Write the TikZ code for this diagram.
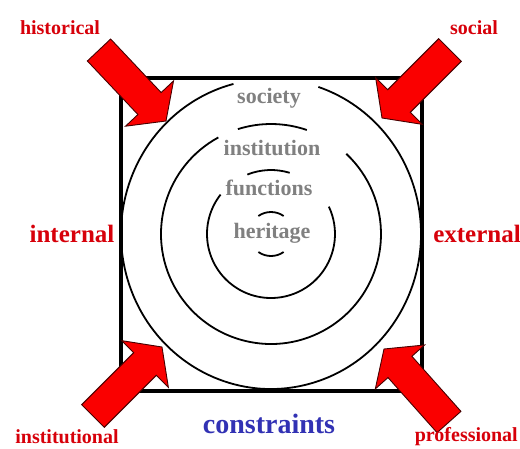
\documentclass[tikz,border=0pt]{standalone}
\usepackage{fontspec}
\setmainfont{Liberation Serif}
\usetikzlibrary{calc}
\definecolor{lblred}{RGB}{215,0,10}
\definecolor{lblblue}{RGB}{50,50,180}
\definecolor{txtgray}{RGB}{128,128,128}
\definecolor{arrred}{RGB}{250,0,0}
\definecolor{arredge}{RGB}{70,0,0}
\newcommand\blockarr[3]{%
  \coordinate (#1T) at #2;
  \coordinate (#1P) at #3;
  \coordinate (#1B) at ($(#1P)!24pt!(#1T)$);
  \draw[blockarrow] (#1P) -- ($(#1B)!33pt!90:(#1P)$) -- ($(#1B)!16pt!90:(#1P)$)
    -- ($(#1T)!16pt!90:(#1P)$) -- ($(#1T)!16pt!-90:(#1P)$)
    -- ($(#1B)!16pt!-90:(#1P)$) -- ($(#1B)!33pt!-90:(#1P)$) -- cycle;}
\begin{document}
\begin{tikzpicture}[x=1pt,y=-1pt,
  ring/.style={line width=1.8pt},
  frame/.style={draw, line width=3.5pt, minimum width=301pt, minimum height=313pt, inner sep=0pt},
  blockarrow/.style={fill=arrred, draw=arredge, line width=0.9pt, line join=miter},
  lbl/.style={font=\bfseries\fontsize{20}{22}\selectfont, text=lblred, inner sep=0pt},
  sidelbl/.style={font=\bfseries\fontsize{25}{27}\selectfont, text=lblred, inner sep=0pt},
  layer/.style={font=\bfseries\fontsize{22}{24}\selectfont, text=txtgray, inner sep=0pt},
  cons/.style={font=\bfseries\fontsize{28}{30}\selectfont, text=lblblue, inner sep=0pt}]
\useasboundingbox (0,0) rectangle (520,448);
\fill[white] (0,0) rectangle (520,448);
\node[frame] (box) at (271.5,234.5) {};
\coordinate (ctr) at (271,234);
% outer ring
\draw[ring] (ctr) ++(-104.5:150 and 155) arc[start angle=-104.5, end angle=-431.6, x radius=150, y radius=155];
% second ring
\draw[ring] (ctr) ++(-71:110) arc[start angle=-71, end angle=-107.5, radius=110];
\draw[ring] (ctr) ++(-118.6:110) arc[start angle=-118.6, end angle=-406.8, radius=110];
% third ring
\draw[ring] (ctr) ++(-73:64) arc[start angle=-73, end angle=-111.7, radius=64];
\draw[ring] (ctr) ++(-142:64) arc[start angle=-142, end angle=-385.3, radius=64];
% inner ring
\draw[ring] (ctr) ++(-55:22) arc[start angle=-55, end angle=-125, radius=22];
\draw[ring] (ctr) ++(-235:22) arc[start angle=-235, end angle=-305, radius=22];
% layer texts
\node[layer] (society) at (269,98) {society};
\node[layer] (institution) at (272,148) {institution};
\node[layer] (functions) at (269,188) {functions};
\node[layer] (heritage) at (272,233) {heritage};
% block arrows
\blockarr{hist}{(99,50)}{(166,121)}
\blockarr{soc}{(450,50)}{(382,118)}
\blockarr{inst}{(93,416)}{(162,347)}
\blockarr{prof}{(449,422)}{(384,349)}
% labels
\node[lbl] (historical) at (60,28) {historical};
\node[lbl] (social) at (474,28) {social};
\node[sidelbl] (internal) at (72,234) {internal};
\node[sidelbl] (external) at (477,234) {external};
\node[lbl] (institutional) at (67,437) {institutional};
\node[lbl, anchor=east] (professional) at (518,437) {professional};
\node[cons] (constraints) at (269,424) {constraints};
\end{tikzpicture}
\end{document}
